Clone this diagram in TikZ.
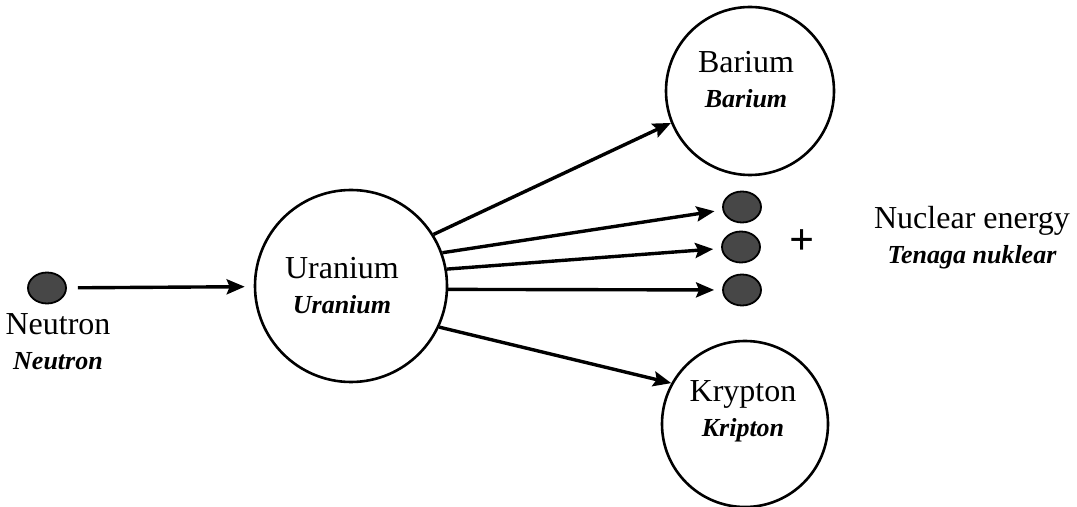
\documentclass[tikz,border=0pt]{standalone}
\usepackage{fontspec}
\setmainfont{Liberation Serif}
\usetikzlibrary{arrows.meta, shapes.geometric}
\newcommand{\malay}[1]{{\fontsize{13}{17.5}\selectfont\bfseries\itshape #1}}

\begin{document}
\begin{tikzpicture}[>={Stealth[length=9pt, width=7.5pt, inset=1.5pt]}, x=0.5pt, y=-0.5pt,
    nucleus/.style={circle, draw, line width=1.3pt, inner sep=0pt},
    particle/.style={ellipse, draw=black, line width=0.9pt, fill=black!72,
      minimum width=19pt, minimum height=15.5pt, inner sep=0pt},
    caption/.style={font=\fontsize{16}{17.5}\selectfont, align=center, inner sep=0pt},
    react/.style={->, line width=1.7pt}]
  \useasboundingbox (0,0) rectangle (1077,507);
  % Incoming neutron
  \node[particle] (neutron) at (47,288) {};
  \node[caption] (neutrontxt) at (58,342) {Neutron\\\malay{Neutron}};
  % Uranium nucleus
  \node[nucleus, minimum size=96pt] (uranium) at (351,286) {};
  \node[caption] (uraniumtxt) at (342,286) {Uranium\\\malay{Uranium}};
  % Products
  \node[nucleus, minimum size=84pt] (barium) at (750,91) {};
  \node[caption] (bariumtxt) at (746,80) {Barium\\\malay{Barium}};
  \node[nucleus, minimum size=83pt] (krypton) at (745,424) {};
  \node[caption] (kryptontxt) at (743,411) {Krypton\\\malay{Kripton}};
  \node[particle] (n1) at (742,207) {};
  \node[particle] (n2) at (741,247) {};
  \node[particle] (n3) at (742,290) {};
  \node[font=\fontsize{22}{24}\selectfont\bfseries] (plus) at (802,242) {+};
  \node[caption] (energy) at (972,238) {Nuclear energy\\\malay{Tenaga nuklear}};
  % Reaction arrows
  \draw[react, shorten <=5.5pt, shorten >=4.5pt] (neutron) -- (uranium);
  \draw[react] (uranium.32) -- (barium.202);
  \draw[react, shorten >=4pt] (uranium.20) -- (n1);
  \draw[react, shorten >=4pt] (uranium.10) -- (n2);
  \draw[react, shorten >=4pt] (uranium.-2) -- (n3);
  \draw[react] (uranium.-25) -- (krypton.151);
\end{tikzpicture}
\end{document}
